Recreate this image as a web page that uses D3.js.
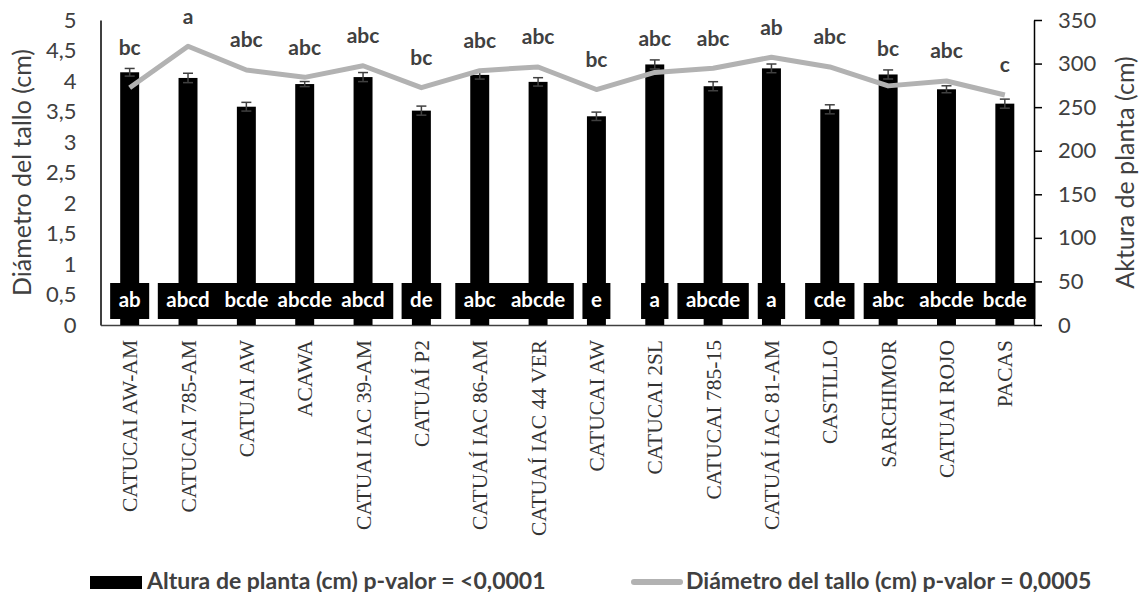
<!DOCTYPE html>
<html>
<head>
<meta charset="utf-8">
<script src="https://cdn.jsdelivr.net/npm/d3@7"></script>
<style>
  body { margin: 0; background: #fff; }
  svg { display: block; }
</style>
</head>
<body>
<svg width="1144" height="592"></svg>
<script>
// data
var categories = ["CATUCAI AW-AM", "CATUCAI 785-AM", "CATUAI AW", "ACAWA", "CATUAI IAC 39-AM",
  "CATUAÍ P2", "CATUAÍ IAC 86-AM", "CATUAÍ IAC 44 VER", "CATUCAI AW", "CATUCAI 2SL",
  "CATUCAI 785-15", "CATUAÍ IAC 81-AM", "CASTILLO", "SARCHIMOR", "CATUAI ROJO", "PACAS"];
var altura = [290, 283.5, 250.5, 276.5, 284.5, 246, 287, 279, 239.5, 299, 274, 294.5, 247.5, 287.5, 270.5, 254];
var alturaErr = [4.4, 5.4, 5.0, 2.9, 5.2, 5.2, 4.8, 4.8, 4.8, 5.2, 5.2, 5.0, 5.2, 5.2, 4.0, 5.2];
var diametro = [3.89, 4.57, 4.18, 4.06, 4.25, 3.89, 4.17, 4.23, 3.86, 4.14, 4.21, 4.39, 4.23, 3.92, 4.00, 3.77];
var letrasAltura = ["ab", "abcd", "bcde", "abcde", "abcd", "de", "abc", "abcde", "e", "a", "abcde", "a", "cde", "abc", "abcde", "bcde"];
var letrasDiametro = ["bc", "a", "abc", "abc", "abc", "bc", "abc", "abc", "bc", "abc", "abc", "ab", "abc", "bc", "abc", "c"];
var leftTicks = [0, 0.5, 1, 1.5, 2, 2.5, 3, 3.5, 4, 4.5, 5];
var rightTicks = [0, 50, 100, 150, 200, 250, 300, 350];
var legendLabels = ["Altura de planta (cm) p-valor = <0,0001", "Diámetro del tallo (cm) p-valor = 0,0005"];
// end of data

var svg = d3.select("svg"),
    pl = 100.5, pr = 1034, pt = 20, pb = 325,
    sans = "Lato, 'Open Sans', sans-serif",
    txt = "#404040";

var x = d3.scaleBand().domain(categories).range([pl, pr]).paddingInner(0.675).paddingOuter(0.3375);
var yL = d3.scaleLinear().domain([0, 5]).range([pb, pt]);
var yR = d3.scaleLinear().domain([0, 350]).range([pb, pt]);
var fmt = function(d) { return String(d).replace(".", ","); };
var cx = function(i) { return x(categories[i]) + x.bandwidth() / 2; };

// left axis (no tick marks)
var axL = svg.append("g").attr("transform", "translate(" + pl + ",0)")
  .call(d3.axisLeft(yL).tickValues(leftTicks).tickFormat(fmt).tickSize(0).tickPadding(24));
axL.select(".domain").attr("stroke", "#000").attr("stroke-width", 1.5);
axL.selectAll("text").attr("font-family", sans).attr("font-size", 22).attr("fill", txt);

// right axis
var axR = svg.append("g").attr("transform", "translate(" + pr + ",0)")
  .call(d3.axisRight(yR).tickValues(rightTicks).tickSizeInner(8).tickSizeOuter(0).tickPadding(16));
axR.select(".domain").attr("stroke", "#000").attr("stroke-width", 1.5);
axR.selectAll("line").attr("stroke", "#000").attr("stroke-width", 1.5);
axR.selectAll("text").attr("font-family", sans).attr("font-size", 22).attr("fill", txt);

// bottom axis
var axB = svg.append("g").attr("transform", "translate(0," + pb + ")")
  .call(d3.axisBottom(x).tickSize(0).tickPadding(14));
axB.select(".domain").attr("stroke", "#404040").attr("stroke-width", 1.5);
axB.selectAll("text")
  .attr("font-family", "'Liberation Serif', 'Times New Roman', serif")
  .attr("font-size", 21.5).attr("fill", "#333")
  .attr("transform", "rotate(-90)")
  .attr("text-anchor", "end")
  .attr("x", -15).attr("y", 0).attr("dy", "0.35em");

// bars
svg.append("g").selectAll("rect")
  .data(altura)
  .enter().append("rect")
    .attr("x", function(d, i) { return x(categories[i]); })
    .attr("width", x.bandwidth())
    .attr("y", function(d) { return yR(d); })
    .attr("height", function(d) { return yR(0) - yR(d); })
    .attr("fill", "#000");

// error bars
var err = svg.append("g").attr("stroke", "#404040").attr("stroke-width", 1.5);
altura.forEach(function(d, i) {
  var c = cx(i), e = alturaErr[i];
  err.append("line").attr("x1", c).attr("x2", c).attr("y1", yR(d + e)).attr("y2", yR(d - e));
  err.append("line").attr("x1", c - 5).attr("x2", c + 5).attr("y1", yR(d + e)).attr("y2", yR(d + e));
  err.append("line").attr("x1", c - 5).attr("x2", c + 5).attr("y1", yR(d - e)).attr("y2", yR(d - e));
});

// line
var line = d3.line()
  .x(function(d, i) { return cx(i); })
  .y(function(d) { return yL(d); });
svg.append("path")
  .datum(diametro)
  .attr("d", line)
  .attr("fill", "none")
  .attr("stroke", "#b2b2b2")
  .attr("stroke-width", 5)
  .attr("stroke-linejoin", "round");

// letters above
svg.append("g").selectAll("text")
  .data(letrasDiametro)
  .enter().append("text")
    .attr("x", function(d, i) { return cx(i); })
    .attr("y", function(d, i) {
      return Math.min(yL(diametro[i]) - 30, yR(altura[i] + alturaErr[i]) - 21);
    })
    .attr("dy", "0.35em")
    .attr("text-anchor", "middle")
    .attr("font-family", sans).attr("font-size", 21).attr("font-weight", "bold")
    .attr("fill", txt)
    .text(function(d) { return d; });

// letter boxes at base of bars
var boxes = svg.append("g");
letrasAltura.forEach(function(d, i) {
  var g = boxes.append("g");
  var r = g.append("rect").attr("fill", "#000");
  var t = g.append("text")
    .attr("x", cx(i)).attr("y", pb - 18)
    .attr("text-anchor", "middle")
    .attr("font-family", sans).attr("font-size", 20.5).attr("font-weight", "bold")
    .attr("fill", "#fff")
    .text(d);
  var w = t.node().getComputedTextLength() + 17;
  r.attr("x", cx(i) - w / 2).attr("width", w)
   .attr("y", pb - 42).attr("height", 36);
});

// axis titles
svg.append("text")
  .attr("transform", "translate(31," + (pt + pb) / 2 + ") rotate(-90)")
  .attr("text-anchor", "middle")
  .attr("font-family", sans).attr("font-size", 25).attr("fill", txt)
  .text("Diámetro del tallo (cm)");
svg.append("text")
  .attr("transform", "translate(1134," + (pt + pb) / 2 + ") rotate(-90)")
  .attr("text-anchor", "middle")
  .attr("font-family", sans).attr("font-size", 25).attr("fill", txt)
  .text("Aktura de planta (cm)");

// legend
var leg = svg.append("g").attr("font-family", sans).attr("font-size", 23)
  .attr("font-weight", "bold").attr("fill", txt);
leg.append("rect").attr("x", 90).attr("y", 576).attr("width", 52).attr("height", 13).attr("fill", "#000");
leg.append("text").attr("x", 147).attr("y", 589).text(legendLabels[0]);
leg.append("line").attr("x1", 634).attr("x2", 680).attr("y1", 582).attr("y2", 582)
  .attr("stroke", "#b2b2b2").attr("stroke-width", 6).attr("stroke-linecap", "round");
leg.append("text").attr("x", 686).attr("y", 589).text(legendLabels[1]);
</script>
</body>
</html>
